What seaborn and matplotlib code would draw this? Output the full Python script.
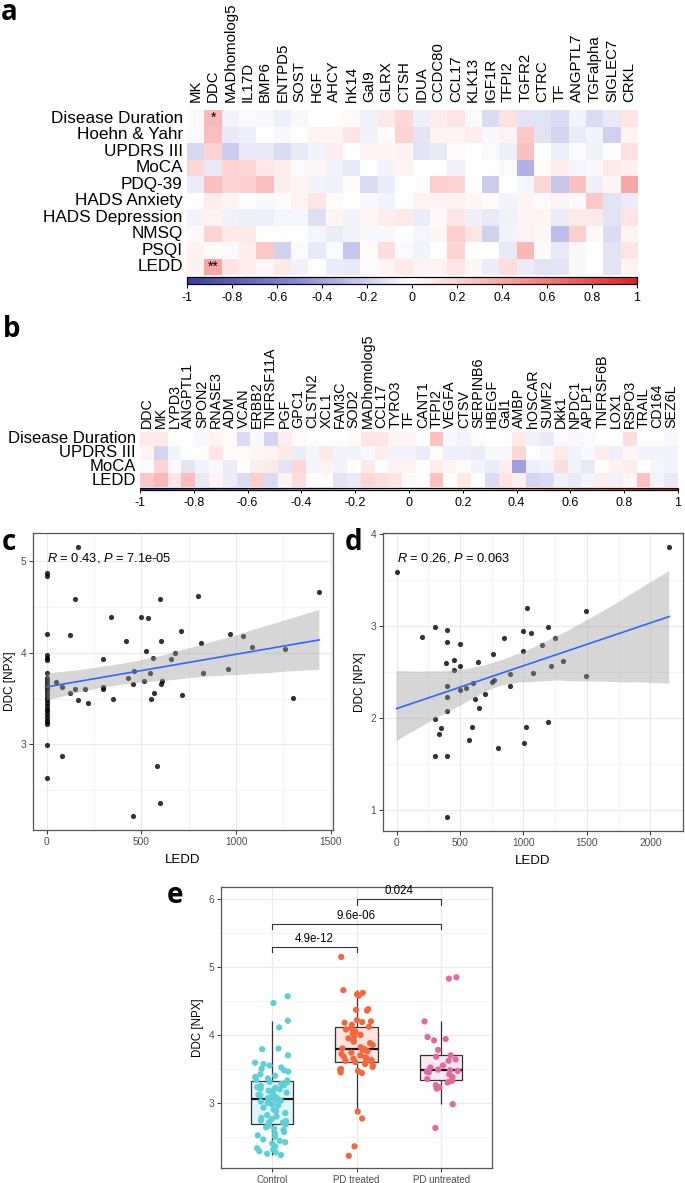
import numpy as np
import pandas as pd
import matplotlib
matplotlib.use("Agg")
import matplotlib.pyplot as plt
import seaborn as sns
from matplotlib.colors import LinearSegmentedColormap
from matplotlib.ticker import FixedLocator
from matplotlib.collections import PolyCollection

# ---------------- data: panel a ----------------
a_rows = ["Disease Duration", "Hoehn & Yahr", "UPDRS III", "MoCA", "PDQ-39",
          "HADS Anxiety", "HADS Depression", "NMSQ", "PSQI", "LEDD"]
a_cols = ["MK", "DDC", "MADhomolog5", "IL17D", "BMP6", "ENTPD5", "SOST", "HGF", "AHCY",
          "hK14", "Gal9", "GLRX", "CTSH", "IDUA", "CCDC80", "CCL17", "KLK13", "IGF1R",
          "TFPI2", "TGFR2", "CTRC", "TF", "ANGPTL7", "TGFalpha", "SIGLEC7", "CRKL"]
a_dd    = [0.03, 0.32, -0.05, -0.02, -0.03, -0.07, -0.03, 0.00, 0.00, 0.03, -0.06, 0.10, 0.18, -0.07, 0.08, 0.12, -0.02, -0.15, 0.14, -0.12, -0.12, -0.15, -0.05, -0.15, -0.10, 0.12]
a_hy    = [-0.02, 0.30, -0.10, -0.07, 0.00, -0.03, 0.00, 0.05, 0.05, 0.12, -0.06, 0.02, 0.20, -0.12, 0.06, 0.05, 0.08, -0.03, 0.06, 0.25, -0.12, -0.18, -0.08, -0.05, -0.20, 0.05]
a_updrs = [-0.17, 0.20, -0.22, -0.10, -0.10, -0.15, -0.10, -0.05, 0.08, 0.00, 0.05, 0.05, 0.06, -0.12, -0.10, 0.02, 0.00, -0.02, -0.07, 0.28, 0.00, -0.07, -0.02, -0.06, 0.00, 0.14]
a_moca  = [0.18, -0.10, 0.20, 0.18, 0.10, 0.08, -0.02, 0.04, -0.05, -0.10, 0.00, -0.05, 0.05, 0.00, 0.00, -0.06, 0.00, 0.00, -0.02, -0.33, 0.02, 0.08, -0.04, -0.03, 0.10, 0.07]
a_pdq   = [-0.08, 0.30, 0.20, 0.22, 0.30, 0.08, 0.05, -0.05, -0.06, 0.02, -0.15, -0.08, 0.00, 0.00, 0.22, 0.20, 0.00, -0.22, 0.00, -0.04, 0.18, -0.25, 0.28, -0.07, 0.04, 0.40]
a_anx   = [0.00, 0.08, 0.05, 0.00, -0.03, 0.02, 0.06, 0.12, 0.02, 0.00, -0.03, -0.05, 0.00, 0.06, 0.06, 0.06, 0.04, 0.02, -0.05, 0.05, -0.02, 0.05, -0.02, 0.25, -0.12, -0.08]
a_dep   = [-0.05, 0.06, -0.06, -0.07, -0.07, -0.04, -0.04, -0.14, 0.05, -0.05, 0.04, 0.08, 0.10, -0.08, 0.03, 0.12, -0.07, -0.10, -0.06, 0.05, 0.05, -0.08, 0.10, 0.10, -0.12, 0.12]
a_nmsq  = [0.03, 0.20, 0.10, 0.10, 0.00, 0.00, 0.00, -0.04, -0.08, -0.05, -0.03, -0.03, 0.00, -0.04, 0.04, 0.22, 0.12, -0.20, -0.05, 0.06, 0.04, -0.28, 0.22, 0.03, -0.15, 0.05]
a_psqi  = [0.06, 0.02, -0.02, 0.08, 0.25, -0.20, -0.02, -0.10, -0.02, -0.25, 0.03, 0.15, -0.02, -0.05, 0.00, 0.20, 0.00, 0.00, -0.10, 0.33, 0.03, -0.10, -0.03, 0.00, -0.12, 0.12]
a_ledd  = [0.06, 0.40, 0.12, 0.08, 0.04, 0.10, -0.06, 0.00, -0.08, -0.10, -0.02, 0.05, 0.10, 0.06, 0.06, 0.12, 0.04, -0.08, 0.15, -0.08, -0.12, -0.12, -0.03, 0.00, -0.12, 0.06]
a_stars = {("Disease Duration", "DDC"): "*", ("LEDD", "DDC"): "**"}

# ---------------- data: panel b ----------------
b_rows = ["Disease Duration", "UPDRS III", "MoCA", "LEDD"]
b_cols = ["DDC", "MK", "LYPD3", "ANGPTL1", "SPON2", "RNASE3", "ADM", "VCAN", "ERBB2",
          "TNFRSF11A", "PGF", "GPC1", "CLSTN2", "XCL1", "FAM3C", "SOD2", "MADhomolog5",
          "CCL17", "TYRO3", "TF", "CANT1", "TFPI2", "VEGFA", "CTSV", "SERPINB6", "HBEGF",
          "Gal1", "AMBP", "hOSCAR", "SUMF2", "Dkk1", "NPDC1", "APLP1", "TNFRSF6B", "LOX1",
          "RSPO3", "TRAIL", "CD164", "SEZ6L"]
b_dd    = [0.10, 0.10, 0.00, 0.00, -0.03, 0.05, 0.03, -0.15, -0.03, -0.18, 0.08, 0.03, 0.00, 0.00, 0.00, 0.03, 0.12, 0.12, 0.05, 0.05, 0.00, 0.28, -0.03, -0.05, 0.02, 0.00, 0.00, 0.10, -0.06, -0.10, -0.02, -0.03, -0.02, 0.00, 0.00, 0.15, 0.00, 0.00, -0.03]
b_updrs = [0.05, -0.18, -0.05, 0.00, 0.02, 0.12, 0.03, 0.02, 0.04, 0.06, 0.10, -0.08, -0.04, 0.10, -0.05, -0.05, -0.03, 0.08, -0.05, -0.05, -0.08, 0.00, -0.07, -0.07, -0.08, -0.03, -0.03, 0.18, 0.00, -0.03, 0.10, -0.05, -0.03, 0.08, -0.07, 0.04, -0.05, -0.05, -0.05]
b_moca  = [0.02, 0.20, -0.03, -0.12, -0.05, -0.03, -0.08, 0.00, 0.08, 0.10, -0.12, 0.18, -0.05, 0.06, -0.05, 0.00, 0.10, 0.00, 0.06, 0.06, 0.00, 0.08, 0.05, 0.03, -0.05, -0.08, 0.08, -0.40, -0.07, -0.05, 0.15, -0.05, -0.10, 0.00, 0.06, 0.08, 0.00, -0.04, -0.05]
b_ledd  = [0.25, 0.32, 0.12, 0.30, -0.10, 0.05, -0.08, -0.15, 0.22, -0.15, 0.06, 0.15, 0.00, 0.02, -0.12, -0.10, 0.18, 0.15, 0.12, -0.02, 0.00, 0.28, 0.00, 0.10, 0.00, -0.15, 0.12, 0.08, -0.18, -0.15, -0.06, -0.10, -0.05, 0.08, -0.06, 0.04, 0.28, -0.05, -0.10]

cb_ticks = [-1, -0.8, -0.6, -0.4, -0.2, 0, 0.2, 0.4, 0.6, 0.8, 1]
cb_labels = ["-1", "-0.8", "-0.6", "-0.4", "-0.2", "0", "0.2", "0.4", "0.6", "0.8", "1"]

# ---------------- data: panel c ----------------
c_ledd = [0, 0, 0, 0, 0, 0, 0, 0, 0, 0, 0, 0, 0, 0, 0, 0, 0, 0, 0, 0, 0, 0, 0, 0, 0, 0, 0,
          52, 80, 121, 121, 150, 150, 163, 163, 201, 220, 299, 299, 299, 341, 353, 420, 427,
          454, 461, 500, 512, 524, 535, 544, 552, 561, 568, 601, 603, 603, 610, 582, 654, 678,
          710, 713, 800, 816, 827, 958, 967, 1035, 1084, 1259, 1302, 1440, 79, 601, 456]
c_ddc = [4.86, 4.83, 4.20, 3.97, 3.94, 3.92, 3.78, 3.72, 3.69, 3.66, 3.63, 3.60, 3.57, 3.54,
         3.51, 3.48, 3.45, 3.42, 3.39, 3.36, 3.33, 3.30, 3.27, 3.24, 3.22, 2.99, 2.64,
         3.68, 3.62, 4.19, 3.56, 4.58, 3.60, 5.15, 3.48, 3.60, 3.45, 3.93, 3.62, 3.60, 4.39,
         3.49, 4.13, 3.72, 3.66, 3.80, 4.39, 3.69, 4.02, 4.38, 3.78, 3.49, 3.94, 3.56, 4.58,
         3.66, 4.13, 3.69, 2.77, 3.93, 4.00, 4.23, 3.54, 4.61, 4.10, 3.78, 3.82, 4.20, 4.18,
         4.06, 4.04, 3.51, 4.66, 2.88, 2.36, 2.22]
c_stat = "0.43", "7.1e-05"

# ---------------- data: panel d ----------------
d_ledd = [0, 203, 300, 401, 401, 500, 388, 450, 450, 500, 638, 760, 849, 1026, 1000, 1063,
          1190, 1245, 1143, 1000, 1312, 1219, 1073, 896, 896, 750, 768, 601, 549, 500, 401,
          401, 617, 698, 651, 401, 300, 352, 331, 300, 401, 596, 573, 797, 1016, 1005, 1190,
          1490, 1490, 2148, 401]
d_ddc = [3.59, 2.88, 2.99, 2.95, 2.83, 2.80, 2.60, 2.63, 2.52, 2.56, 2.61, 2.69, 2.87, 3.20,
         2.94, 2.92, 2.99, 2.87, 2.79, 2.73, 2.62, 2.56, 2.49, 2.48, 2.35, 2.39, 2.41, 2.38,
         2.32, 2.30, 2.35, 2.23, 2.20, 2.26, 2.11, 2.07, 1.99, 1.89, 1.82, 1.59, 1.58, 1.90,
         1.76, 1.67, 1.90, 1.73, 1.96, 3.16, 2.46, 3.86, 0.92]
d_stat = "0.26", "0.063"

# ---------------- data: panel e ----------------
e_groups = ["Control", "PD treated", "PD untreated"]
e_control = [4.57, 4.47, 4.21, 4.11, 3.80, 3.79, 3.70, 3.59, 3.57, 3.55, 3.52, 3.50, 3.48, 3.46,
             3.42, 3.40, 3.38, 3.36, 3.34, 3.33, 3.31, 3.30, 3.28, 3.26, 3.25, 3.23, 3.22, 3.21,
             3.20, 3.18, 3.17, 3.15, 3.14, 3.12, 3.11, 3.10, 3.09, 3.08, 3.07, 3.06, 3.05, 3.04,
             3.03, 3.02, 3.00, 2.98, 2.96, 2.93, 2.90, 2.88, 2.85, 2.82, 2.80, 2.78, 2.76, 2.74,
             2.73, 2.72, 2.71, 2.70, 2.68, 2.66, 2.64, 2.62, 2.60, 2.57, 2.55, 2.52, 2.50, 2.46,
             2.44, 2.42, 2.40, 2.36, 2.33, 2.31, 2.29, 2.27, 2.25, 2.23]
e_treated = [5.15, 4.66, 4.62, 4.60, 4.58, 4.38, 4.37, 4.36, 4.22, 4.20, 4.19, 4.18, 4.15, 4.12,
             4.10, 4.08, 4.05, 4.02, 4.00, 3.98, 3.95, 3.92, 3.90, 3.88, 3.85, 3.82, 3.80, 3.79,
             3.78, 3.76, 3.74, 3.72, 3.70, 3.68, 3.67, 3.66, 3.65, 3.63, 3.62, 3.61, 3.60, 3.59,
             3.57, 3.55, 3.53, 3.50, 3.49, 3.47, 3.45, 3.44, 2.87, 2.77, 2.36, 2.22]
e_untreated = [4.85, 4.83, 4.20, 3.97, 3.94, 3.92, 3.78, 3.70, 3.68, 3.64, 3.62, 3.55, 3.52,
               3.49, 3.48, 3.47, 3.46, 3.45, 3.42, 3.38, 3.35, 3.33, 3.32, 3.30, 3.26, 3.23,
               3.21, 2.98, 2.63]
e_box_fill = ["#dff5f7", "#fde4df", "#fce6f0"]
e_point_col = ["#5ccfd7", "#f5663c", "#e06a9b"]
e_pairs = [(0, 1), (0, 2), (1, 2)]
e_pvals = ["4.9e-12", "9.6e-06", "0.024"]
e_bracket_y = [5.30, 5.64, 6.00]

# ---------------- style ----------------
plt.rcParams["font.family"] = ["Liberation Sans", "DejaVu Sans"]
plt.rcParams["mathtext.fontset"] = "custom"
plt.rcParams["mathtext.rm"] = "Liberation Sans"
plt.rcParams["mathtext.it"] = "Liberation Sans:italic"

W, H = 685, 1183
fig = plt.figure(figsize=(W / 100, H / 100), dpi=100)


def rect(x0, y0, x1, y1):
    return [x0 / W, 1 - y1 / H, (x1 - x0) / W, (y1 - y0) / H]


cmap = LinearSegmentedColormap.from_list(
    "corr", [(0, "#3b3f9c"), (0.25, "#8a8ad8"), (0.5, "#ffffff"), (0.75, "#f99191"), (1, "#d7261e")])


def corr_heatmap(df, box, cbox, col_fs, row_fs, col_pad, annot=None, cb_len=3):
    ax = fig.add_axes(rect(*box))
    sns.heatmap(df, ax=ax, cmap=cmap, vmin=-1, vmax=1, cbar=False,
                annot=annot if annot is not None else False, fmt="",
                annot_kws={"fontsize": 10, "color": "black"})
    ax.xaxis.tick_top()
    ax.set_xticks(np.arange(df.shape[1]) + 0.5)
    ax.set_xticklabels(df.columns, rotation=90, fontsize=col_fs)
    ax.set_yticks(np.arange(df.shape[0]) + 0.5)
    ax.set_yticklabels(df.index, rotation=0, fontsize=row_fs)
    ax.tick_params(length=0, pad=3)
    ax.tick_params(axis="x", pad=col_pad)
    ax.set_xlabel("")
    ax.set_ylabel("")
    cax = fig.add_axes(rect(*cbox))
    cb = fig.colorbar(ax.collections[0], cax=cax, orientation="horizontal")
    cb.set_ticks(cb_ticks)
    cb.set_ticklabels(cb_labels)
    cb.ax.tick_params(labelsize=9, length=cb_len, width=0.7, pad=3)
    cb.outline.set_linewidth(0.9)
    return ax


# panel a
df_a = pd.DataFrame([a_dd, a_hy, a_updrs, a_moca, a_pdq, a_anx, a_dep, a_nmsq, a_psqi, a_ledd],
                    index=a_rows, columns=a_cols)
annot_a = pd.DataFrame("", index=a_rows, columns=a_cols)
for (r, c), s in a_stars.items():
    annot_a.loc[r, c] = s
corr_heatmap(df_a, (187, 110, 638, 275), (187, 277, 637, 284), 10.8, 12.3, 6, annot_a.values)

# panel b
df_b = pd.DataFrame([b_dd, b_updrs, b_moca, b_ledd], index=b_rows, columns=b_cols)
corr_heatmap(df_b, (140, 432, 678, 487), (140, 487.5, 678, 490.5), 10.3, 12.0, 3, None, cb_len=2)


def style_bw(ax, xmaj, xmin, ymaj, ymin):
    ax.set_facecolor("white")
    ax.xaxis.set_major_locator(FixedLocator(xmaj))
    ax.yaxis.set_major_locator(FixedLocator(ymaj))
    if xmin:
        ax.xaxis.set_minor_locator(FixedLocator(xmin))
    ax.yaxis.set_minor_locator(FixedLocator(ymin))
    ax.grid(which="major", color="#ebebeb", linewidth=0.9)
    ax.grid(which="minor", color="#f3f3f3", linewidth=0.6)
    ax.set_axisbelow(True)
    for s in ax.spines.values():
        s.set_color("#555555")
        s.set_linewidth(0.9)
    ax.tick_params(which="major", length=3, width=0.7, color="#333333",
                   labelcolor="#4d4d4d", labelsize=7.3, pad=2)
    ax.tick_params(which="minor", length=0)


def scatter_panel(box, x, y, xlim, ylim, xmaj, xmin, ymaj, ymin, stat, ty):
    ax = fig.add_axes(rect(*box))
    sns.regplot(x=np.array(x, float), y=np.array(y, float), ax=ax, ci=95, n_boot=1000, seed=2,
                scatter_kws={"s": 14, "color": "black", "linewidths": 0},
                line_kws={"color": "#3366FF", "linewidth": 1.2})
    for coll in ax.collections:
        if isinstance(coll, PolyCollection):
            coll.set_facecolor("#999999")
            coll.set_alpha(0.4)
    ax.set_xlim(*xlim)
    ax.set_ylim(*ylim)
    style_bw(ax, xmaj, xmin, ymaj, ymin)
    ax.set_xlabel("LEDD", fontsize=9.5, labelpad=5)
    ax.set_ylabel("DDC [NPX]", fontsize=8.5, labelpad=3)
    ax.text(0, ty, r"$\mathit{R}$ = " + stat[0] + r", $\mathit{P}$ = " + stat[1],
            fontsize=9.3, ha="left", va="center")
    return ax


scatter_panel((33, 533, 333, 830), c_ledd, c_ddc, (-72, 1512), (2.07, 5.30),
              [0, 500, 1000, 1500], [250, 750, 1250], [3, 4, 5], [2.5, 3.5, 4.5], c_stat, 5.03)
scatter_panel((383, 533, 683, 831), d_ledd, d_ddc, (-107, 2257), (0.77, 4.01),
              [0, 500, 1000, 1500, 2000], [250, 750, 1250, 1750], [1, 2, 3, 4],
              [1.5, 2.5, 3.5], d_stat, 3.74)

# panel e
df_e = pd.DataFrame({
    "group": [e_groups[0]] * len(e_control) + [e_groups[1]] * len(e_treated)
             + [e_groups[2]] * len(e_untreated),
    "ddc": e_control + e_treated + e_untreated,
})
ax_e = fig.add_axes(rect(221, 887, 492, 1168))
sns.boxplot(data=df_e, x="group", y="ddc", hue="group", order=e_groups, hue_order=e_groups,
            palette=dict(zip(e_groups, e_box_fill)), saturation=1, width=0.5,
            showfliers=False, showcaps=False, linecolor="#333333", linewidth=0.9,
            medianprops={"color": "#1a1a1a", "linewidth": 1.6}, legend=False, ax=ax_e)
np.random.seed(4)
sns.stripplot(data=df_e, x="group", y="ddc", hue="group", order=e_groups, hue_order=e_groups,
              palette=dict(zip(e_groups, e_point_col)), jitter=0.2, size=4.5, linewidth=0,
              legend=False, ax=ax_e, zorder=3)
ax_e.set_xlim(-0.6, 2.6)
ax_e.set_ylim(2.04, 6.18)
style_bw(ax_e, [0, 1, 2], None, [3, 4, 5, 6], [2.5, 3.5, 4.5, 5.5])
ax_e.set_xticklabels(e_groups)
ax_e.tick_params(axis="x", labelsize=7.0)
ax_e.set_xlabel("")
ax_e.set_ylabel("DDC [NPX]", fontsize=8.3, labelpad=3)
for (i, j), p, yb in zip(e_pairs, e_pvals, e_bracket_y):
    ax_e.plot([i, i, j, j], [yb - 0.08, yb, yb, yb - 0.08], color="#333333", linewidth=0.8)
    ax_e.text((i + j) / 2, yb + 0.03, p, ha="center", va="bottom", fontsize=8.3)

# panel letters
for lab, x, y in [("a", 1, 20), ("b", 3, 337), ("c", 2, 550), ("d", 345, 550), ("e", 167, 903)]:
    fig.text(x / W, 1 - y / H, lab, fontsize=20, fontweight="bold",
             family=["Open Sans", "DejaVu Sans"], ha="left", va="baseline")

fig.savefig("out.png", dpi=100)
